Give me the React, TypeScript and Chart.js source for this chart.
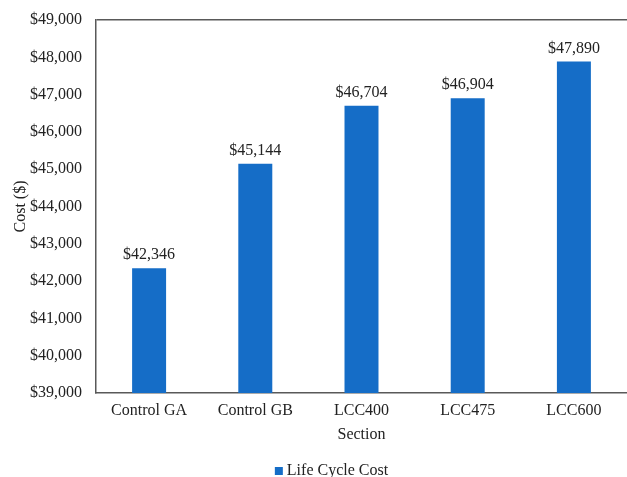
import React, { useEffect, useRef } from "react";
import { Chart, registerables } from "chart.js";

Chart.register(...registerables);

const categories = ["Control GA", "Control GB", "LCC400", "LCC475", "LCC600"];
const lifeCycleCost = [42346, 45144, 46704, 46904, 47890];
const seriesLabel = "Life Cycle Cost";
const yMin = 39000;
const yMax = 49000;
const yStep = 1000;

const FONT = "'Liberation Serif', 'Times New Roman', serif";
const AXIS = "#595959";
const BAR = "#156DC7";
const TEXT = "#222";
const FS = 16;

const fmt = (v: number) => "$" + v.toLocaleString("en-US");

const valueLabels = {
  id: "valueLabels",
  afterDatasetsDraw(chart: any) {
    const ctx = chart.ctx;
    const meta = chart.getDatasetMeta(0);
    ctx.save();
    ctx.font = `${FS}px ${FONT}`;
    ctx.fillStyle = TEXT;
    ctx.textAlign = "center";
    ctx.textBaseline = "bottom";
    meta.data.forEach((bar: any, i: number) => {
      ctx.fillText(fmt(chart.data.datasets[0].data[i]), bar.x, bar.y - 5);
    });
    ctx.restore();
  },
};

const bottomLegend = {
  id: "bottomLegend",
  afterDraw(chart: any) {
    const ctx = chart.ctx;
    const ds = chart.data.datasets[0];
    ctx.save();
    ctx.font = `${FS}px ${FONT}`;
    const tw = ctx.measureText(ds.label).width;
    const box = 8;
    const gap = 4;
    const total = box + gap + tw;
    const cx = chart.width / 2 + 18;
    const x0 = cx - total / 2;
    const yc = chart.height - 6;
    ctx.fillStyle = ds.backgroundColor;
    ctx.fillRect(x0, yc - box / 2, box, box);
    ctx.fillStyle = TEXT;
    ctx.textAlign = "left";
    ctx.textBaseline = "middle";
    ctx.fillText(ds.label, x0 + box + gap, yc);
    ctx.restore();
  },
};

export default function App() {
  const ref = useRef<HTMLCanvasElement>(null);
  useEffect(() => {
    document.body.style.margin = "0";
    const chart = new Chart(ref.current!, {
      type: "bar",
      data: {
        labels: categories,
        datasets: [
          {
            label: seriesLabel,
            data: lifeCycleCost,
            backgroundColor: BAR,
            categoryPercentage: 1,
            barPercentage: 0.32,
          },
        ],
      },
      options: {
        animation: false,
        responsive: false,
        layout: { padding: { top: 20, right: 0, bottom: 23, left: 0 } },
        plugins: {
          tooltip: { enabled: false },
          legend: { display: false },
        },
        scales: {
          x: {
            grid: { display: false, drawTicks: false },
            border: { color: AXIS, width: 1.5 },
            ticks: { font: { family: FONT, size: FS }, color: TEXT, padding: 8 },
            title: {
              display: true,
              text: "Section",
              font: { family: FONT, size: FS },
              color: TEXT,
              padding: { top: 1, bottom: 10 },
            },
            afterFit: (s: any) => {
              s.height = 61;
              s.paddingLeft = 0;
              s.paddingRight = 0;
            },
          },
          y: {
            min: yMin,
            max: yMax,
            ticks: {
              stepSize: yStep,
              font: { family: FONT, size: FS },
              color: TEXT,
              padding: 14,
              callback: (v: any) => fmt(Number(v)),
            },
            grid: {
              drawTicks: false,
              lineWidth: 1.5,
              color: (c: any) => (c.tick && c.tick.value === yMax ? AXIS : "transparent"),
            },
            border: { color: AXIS, width: 1.5 },
            title: {
              display: true,
              text: "Cost ($)",
              font: { family: FONT, size: FS },
              color: TEXT,
              padding: { top: 11, bottom: 0 },
            },
            afterFit: (s: any) => {
              s.width = 96;
              s.paddingTop = 0;
              s.paddingBottom = 0;
            },
          },
        },
      },
      plugins: [valueLabels, bottomLegend],
    });
    return () => chart.destroy();
  }, []);
  return (
    <div style={{ position: "fixed", left: 0, top: 0, width: 627, height: 477 }}>
      <canvas ref={ref} width={627} height={477} />
    </div>
  );
}
